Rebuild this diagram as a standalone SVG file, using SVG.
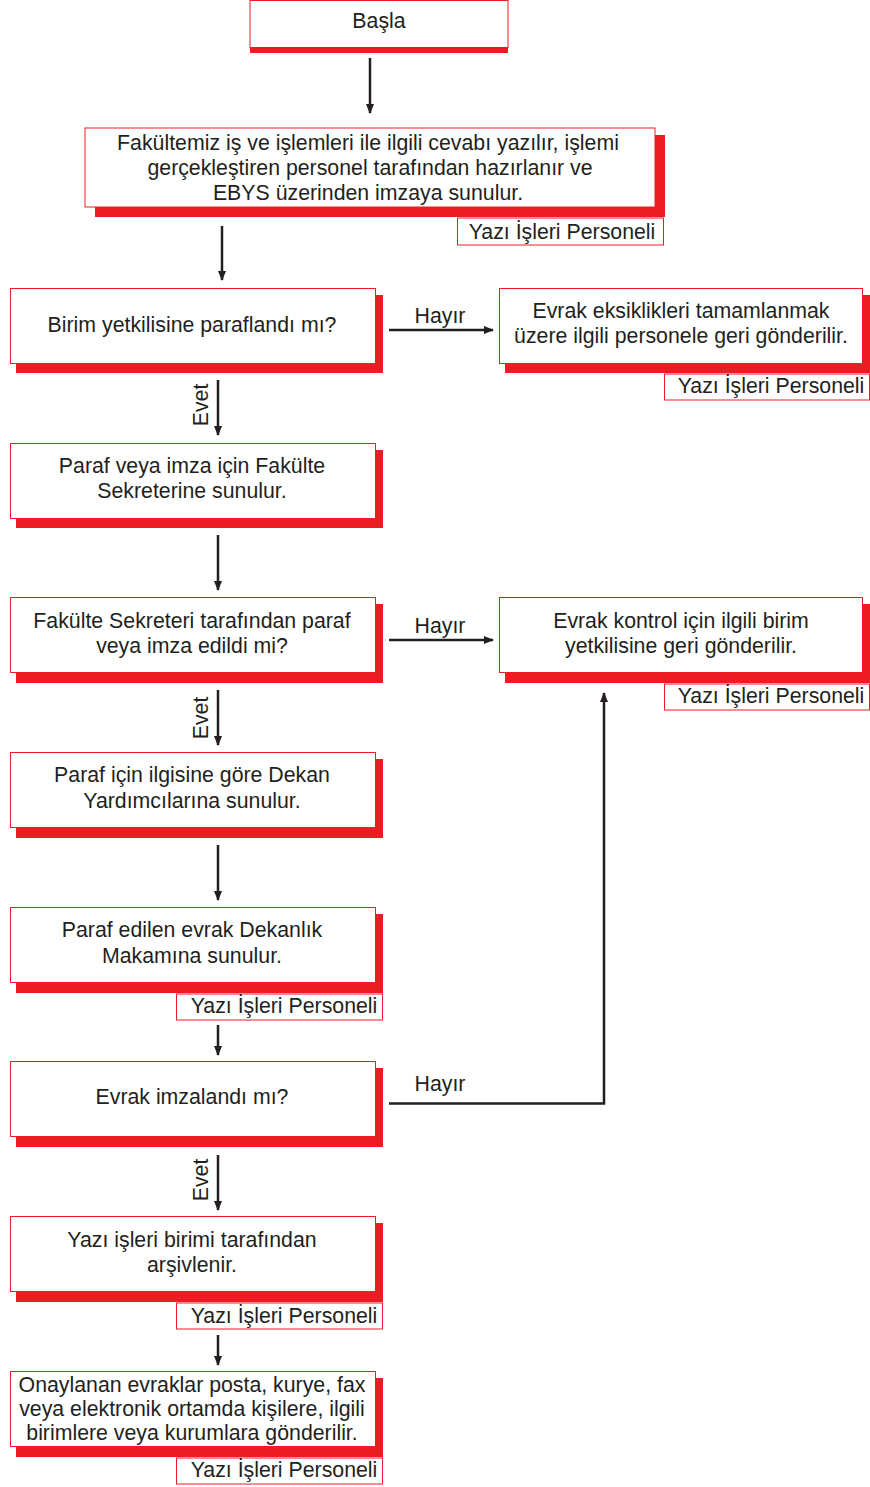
<svg xmlns="http://www.w3.org/2000/svg" width="870" height="1487" viewBox="0 0 870 1487">
<defs>
<style>
.sh{fill:#ed1c24}
.bx{fill:#fff;stroke:#ed1c24;stroke-width:1}
.lb{fill:#fff;stroke:#ed1c24;stroke-width:1}
text{font-family:"Liberation Sans",Arial,sans-serif;font-size:21.3px;fill:#231f20;text-anchor:middle}
.c line,.c path{stroke:#231f20;stroke-width:2.5;fill:none}
</style>
<marker id="ah" markerWidth="10" markerHeight="8" refX="9" refY="4" orient="auto" markerUnits="userSpaceOnUse">
<path d="M0,0 L10,4 L0,8 Z" fill="#231f20"/>
</marker>
</defs>
<rect width="870" height="1487" fill="#fff"/>

<g id="n-basla">
<rect class="sh" x="250" y="6" width="258" height="47"/>
<rect class="bx" x="250" y="0.5" width="258" height="47"/>
<text x="379" y="28">Başla</text>
</g>

<g id="n-hazir">
<rect class="sh" x="95" y="135" width="570" height="82"/>
<rect class="bx" x="85" y="128" width="570" height="79"/>
<text x="368" y="149.5">Fakültemiz iş ve işlemleri ile ilgili cevabı yazılır, işlemi</text>
<text x="370" y="174.5">gerçekleştiren personel tarafından hazırlanır ve</text>
<text x="368" y="199.5">EBYS üzerinden imzaya sunulur.</text>
<rect class="lb" x="457.5" y="218" width="206" height="27"/>
<text x="562" y="239">Yazı İşleri Personeli</text>
</g>

<g id="n-birim">
<rect class="sh" x="16" y="295" width="367" height="78"/>
<rect class="bx" x="10.5" y="288.5" width="365" height="75"/>
<text x="192" y="332">Birim yetkilisine paraflandı mı?</text>
</g>

<g id="n-eksik">
<rect class="sh" x="505" y="295" width="365" height="78"/>
<rect class="bx" x="499.5" y="288.5" width="363" height="75"/>
<text x="681" y="318">Evrak eksiklikleri tamamlanmak</text>
<text x="681" y="343">üzere ilgili personele geri gönderilir.</text>
<rect class="lb" x="664.5" y="374" width="205" height="26"/>
<text x="771" y="393">Yazı İşleri Personeli</text>
</g>

<g id="n-sekreter-sun">
<rect class="sh" x="16" y="450" width="367" height="78"/>
<rect class="bx" x="10.5" y="443.5" width="365" height="75"/>
<text x="192" y="473">Paraf veya imza için Fakülte</text>
<text x="192" y="498">Sekreterine sunulur.</text>
</g>

<g id="n-sekreter-paraf">
<rect class="sh" x="16" y="604" width="367" height="79"/>
<rect class="bx" x="10.5" y="597.5" width="365" height="75"/>
<text x="192" y="628">Fakülte Sekreteri tarafından paraf</text>
<text x="192" y="653">veya imza edildi mi?</text>
</g>

<g id="n-kontrol">
<rect class="sh" x="505" y="604" width="365" height="79"/>
<rect class="bx" x="499.5" y="597.5" width="363" height="75"/>
<text x="681" y="628">Evrak kontrol için ilgili birim</text>
<text x="681" y="653">yetkilisine geri gönderilir.</text>
<rect class="lb" x="664.5" y="684" width="205" height="26"/>
<text x="771" y="703">Yazı İşleri Personeli</text>
</g>

<g id="n-dekan-yrd">
<rect class="sh" x="16" y="759" width="367" height="79"/>
<rect class="bx" x="10.5" y="752.5" width="365" height="75"/>
<text x="192" y="782">Paraf için ilgisine göre Dekan</text>
<text x="192" y="808">Yardımcılarına sunulur.</text>
</g>

<g id="n-dekanlik">
<rect class="sh" x="16" y="914" width="367" height="79"/>
<rect class="bx" x="10.5" y="907.5" width="365" height="75"/>
<text x="192" y="937">Paraf edilen evrak Dekanlık</text>
<text x="192" y="963">Makamına sunulur.</text>
<rect class="lb" x="176.5" y="994" width="206" height="26"/>
<text x="284" y="1013">Yazı İşleri Personeli</text>
</g>

<g id="n-imza">
<rect class="sh" x="16" y="1068" width="367" height="79"/>
<rect class="bx" x="10.5" y="1061.5" width="365" height="75"/>
<text x="192" y="1104">Evrak imzalandı mı?</text>
</g>

<g id="n-arsiv">
<rect class="sh" x="16" y="1223" width="367" height="79"/>
<rect class="bx" x="10.5" y="1216.5" width="365" height="75"/>
<text x="192" y="1247">Yazı işleri birimi tarafından</text>
<text x="192" y="1272">arşivlenir.</text>
<rect class="lb" x="176.5" y="1303" width="206" height="26"/>
<text x="284" y="1323">Yazı İşleri Personeli</text>
</g>

<g id="n-gonder">
<rect class="sh" x="16" y="1378" width="367" height="79"/>
<rect class="bx" x="10.5" y="1371.5" width="365" height="75"/>
<text x="192" y="1392">Onaylanan evraklar posta, kurye, fax</text>
<text x="192" y="1416">veya elektronik ortamda kişilere, ilgili</text>
<text x="192" y="1440">birimlere veya kurumlara gönderilir.</text>
<rect class="lb" x="176.5" y="1458" width="206" height="26"/>
<text x="284" y="1477">Yazı İşleri Personeli</text>
</g>

<g id="connectors" class="c">
<line x1="370" y1="58" x2="370" y2="113" marker-end="url(#ah)"/>
<line x1="222" y1="226" x2="222" y2="280" marker-end="url(#ah)"/>
<line x1="389" y1="330" x2="493" y2="330" marker-end="url(#ah)"/>
<line x1="218" y1="380" x2="218" y2="435" marker-end="url(#ah)"/>
<line x1="218" y1="535" x2="218" y2="590" marker-end="url(#ah)"/>
<line x1="389" y1="640" x2="493" y2="640" marker-end="url(#ah)"/>
<line x1="218" y1="690" x2="218" y2="745" marker-end="url(#ah)"/>
<line x1="218" y1="845" x2="218" y2="900" marker-end="url(#ah)"/>
<line x1="218" y1="1025" x2="218" y2="1055" marker-end="url(#ah)"/>
<path d="M389,1103.5 H604 V693" marker-end="url(#ah)"/>
<line x1="218" y1="1155" x2="218" y2="1210" marker-end="url(#ah)"/>
<line x1="218" y1="1335" x2="218" y2="1365" marker-end="url(#ah)"/>
</g>
<g id="labels">
<text x="440" y="323">Hayır</text>
<text x="440" y="633">Hayır</text>
<text x="440" y="1091">Hayır</text>
<text transform="translate(208,405) rotate(-90)">Evet</text>
<text transform="translate(208,718) rotate(-90)">Evet</text>
<text transform="translate(208,1180) rotate(-90)">Evet</text>
</g>
</svg>
